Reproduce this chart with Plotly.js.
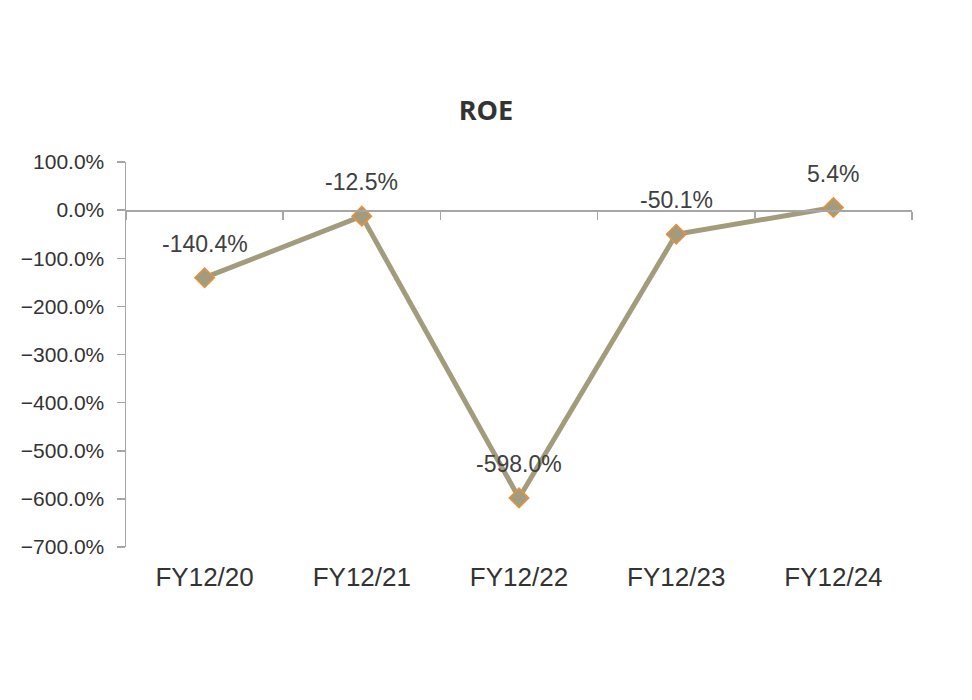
<!DOCTYPE html>
<html>
<head>
<meta charset="utf-8">
<script src="https://cdn.plot.ly/plotly-3.0.1.min.js"></script>
<style>html,body{margin:0;padding:0;background:#fff;}</style>
</head>
<body>
<div id="chart" style="width:972px;height:700px;"></div>
<script>
const categories = ["FY12/20", "FY12/21", "FY12/22", "FY12/23", "FY12/24"];
const roeValues = [-140.4, -12.5, -598.0, -50.1, 5.4];
const labelTexts = ["-140.4%", "-12.5%", "-598.0%", "-50.1%", "5.4%"];
const yTickValues = [100, 0, -100, -200, -300, -400, -500, -600, -700];
const yTickLabels = ["100.0%", "0.0%", "\u2212100.0%", "\u2212200.0%", "\u2212300.0%", "\u2212400.0%", "\u2212500.0%", "\u2212600.0%", "\u2212700.0%"];

const idx = categories.map((c, i) => i);

const trace = {
  x: idx,
  y: roeValues,
  type: "scatter",
  mode: "lines+markers",
  line: {color: "#a39c7c", width: 5},
  marker: {symbol: "diamond", size: 15, color: "#a39c7c", line: {color: "#eb8f3c", width: 1.5}},
  hoverinfo: "skip",
  cliponaxis: false
};

const annotations = idx.map(i => ({
  x: i, y: roeValues[i], xref: "x", yref: "y",
  text: labelTexts[i], showarrow: false, yshift: 34,
  font: {family: "Liberation Sans, Arial, sans-serif", size: 23, color: "#404040"}
}));

const layout = {
  width: 972, height: 700,
  paper_bgcolor: "#fff", plot_bgcolor: "#fff",
  margin: {l: 126, r: 60, t: 162, b: 153},
  showlegend: false,
  title: {text: "<b>ROE</b>", x: 0.5, xanchor: "center", y: 1 - 111/700, yanchor: "middle",
          font: {family: "Open Sans, sans-serif", size: 27, color: "#333"}},
  xaxis: {
    range: [-0.5, 4.5], tickvals: idx, ticktext: categories,
    showline: false, showgrid: false, zeroline: false, ticks: "",
    tickfont: {family: "Liberation Sans, Arial, sans-serif", size: 26, color: "#333"},
    ticklabelstandoff: 12
  },
  xaxis2: {
    overlaying: "x", anchor: "free", position: 0.875,
    range: [-0.5, 4.5], tickvals: [-0.5, 0.5, 1.5, 2.5, 3.5, 4.5],
    showticklabels: false, showline: true, linecolor: "#a6a6a6", linewidth: 1.5,
    ticks: "outside", ticklen: 8, tickcolor: "#a6a6a6", tickwidth: 1.5,
    showgrid: false, zeroline: false
  },
  yaxis: {
    range: [-700, 100], tickvals: yTickValues, ticktext: yTickLabels,
    showline: true, linecolor: "#a6a6a6", linewidth: 1.5,
    ticks: "outside", ticklen: 8, tickcolor: "#a6a6a6", tickwidth: 1.5,
    showgrid: false, zeroline: false, ticklabelstandoff: 8,
    tickfont: {family: "Liberation Sans, Arial, sans-serif", size: 21, color: "#333"}
  },
  annotations: annotations
};

const axisHelper = {x: [-0.5, 4.5], y: [0, 0], xaxis: "x2", yaxis: "y", mode: "lines", line: {width: 0}, hoverinfo: "skip", showlegend: false};

Plotly.newPlot("chart", [axisHelper, trace], layout, {displayModeBar: false, staticPlot: true});
</script>
</body>
</html>
